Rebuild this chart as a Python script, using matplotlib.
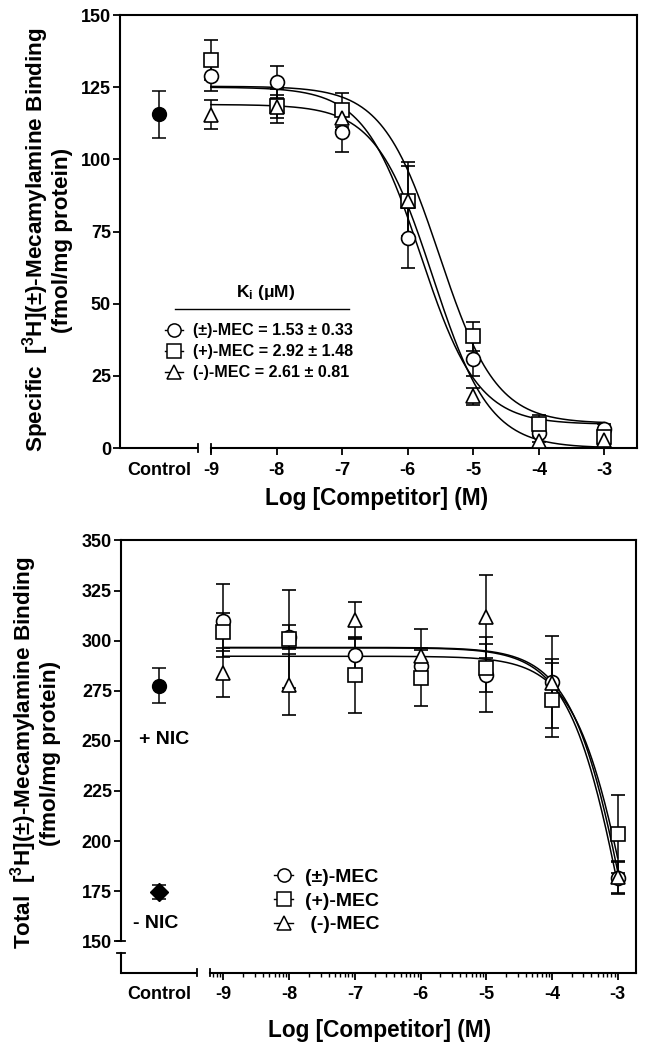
import numpy as np
import matplotlib
matplotlib.use("Agg")
import matplotlib.pyplot as plt
from matplotlib.lines import Line2D

plt.rcParams['font.family'] = ['Liberation Sans', 'DejaVu Sans']
plt.rcParams['font.weight'] = 'bold'
plt.rcParams['mathtext.fontset'] = 'custom'
plt.rcParams['mathtext.rm'] = 'Liberation Sans:bold'
plt.rcParams['mathtext.bf'] = 'Liberation Sans:bold'
plt.rcParams['mathtext.it'] = 'Liberation Sans:bold'

# ---------------- data ----------------
log_conc = [-9, -8, -7, -6, -5, -4, -3]
series_names = ['(±)-MEC', '(+)-MEC', '(-)-MEC']

# Top: specific binding
spec_pm = [128.7, 126.9, 109.6, 72.7, 30.8, 5.2, 6.7]
spec_pm_err = [5.0, 5.5, 7.0, 10.4, 6.0, 3.0, 1.5]
spec_plus = [134.4, 118.5, 117.1, 85.6, 38.7, 8.4, 3.7]
spec_plus_err = [7.0, 6.0, 5.8, 13.6, 5.0, 3.0, 2.0]
spec_minus = [115.4, 118.3, 114.2, 85.6, 17.9, 2.3, 2.9]
spec_minus_err = [5.0, 4.0, 4.0, 12.0, 3.0, 2.0, 2.0]
spec_control = 115.6
spec_control_err = 8.2
# fitted one-site curves: top, bottom, logIC50
spec_fit_top = [125.0, 125.3, 119.0]
spec_fit_bottom = [8.2, 8.5, 0.0]
spec_fit_logic50 = [-5.80, -5.52, -5.62]
ki_labels = ['(±)-MEC = 1.53 ± 0.33', '(+)-MEC = 2.92 ± 1.48', '(-)-MEC = 2.61 ± 0.81']

# Bottom: total binding
tot_pm = [310.0, 301.7, 292.9, 287.3, 283.0, 279.2, 181.7]
tot_pm_err = [18.0, 6.0, 8.5, 9.0, 18.6, 23.0, 8.0]
tot_plus = [304.2, 300.8, 283.0, 281.4, 286.4, 270.3, 203.4]
tot_plus_err = [9.5, 24.6, 19.0, 14.0, 12.0, 18.6, 19.5]
tot_minus = [283.9, 278.0, 310.2, 292.4, 311.9, 279.0, 182.0]
tot_minus_err = [12.2, 15.3, 9.3, 13.2, 20.6, 11.7, 8.0]
tot_fit_top = [296.6, 292.2, 296.4]
tot_fit_bottom = [0.0, 0.0, 0.0]
tot_fit_logic50 = [-2.78, -2.72, -2.82]
nic_plus = 277.5
nic_plus_err = 8.7
nic_minus = 174.4
nic_minus_err = 3.5
legend_bottom_labels = ['(±)-MEC', '(+)-MEC', ' (-)-MEC']

markers = ['o', 's', '^']

# ---------------- figure ----------------
W, H = 646, 1050
fig = plt.figure(figsize=(W / 100, H / 100), dpi=100)
SPLW = 1.5
TICKFS = 13
ax1 = fig.add_axes([120 / W, 1 - 448 / H, 516.5 / W, 433 / H])
ax2 = fig.add_axes([121 / W, 1 - 972.5 / H, 515 / W, 432.1 / H])

def curve(xs, top, bot, c):
    return bot + (top - bot) / (1 + 10 ** (xs - c))

xs = np.linspace(-9, -3, 400)
MS = {'o': 10, 's': 9.5, '^': 10}

# ---------- top panel ----------
x1min, x1max = -10.387, -2.512
ctrl1 = -9.79
brk1 = -9.198
ax1.set_xlim(x1min, x1max)
ax1.set_ylim(0, 150)
sets1 = [(spec_pm, spec_pm_err), (spec_plus, spec_plus_err), (spec_minus, spec_minus_err)]
for (vals, errs), m in zip(sets1, markers):
    ax1.errorbar(log_conc, vals, yerr=errs, fmt=m, ms=MS[m],
                 mfc='white', mec='black', mew=1.2, ecolor='black', elinewidth=1.1,
                 capsize=5.2, capthick=1.1, zorder=3)
for t, b, c in zip(spec_fit_top, spec_fit_bottom, spec_fit_logic50):
    ax1.plot(xs, curve(xs, t, b, c), color='black', lw=1.1, zorder=2)
ax1.errorbar([ctrl1], [spec_control], yerr=[spec_control_err], fmt='o', ms=10,
             mfc='black', mec='black', ecolor='black', elinewidth=1.1, capsize=5.2,
             capthick=1.1)

ax1.set_yticks([0, 25, 50, 75, 100, 125, 150])
ax1.set_xticks([ctrl1] + log_conc)
ax1.set_xticklabels(['Control'] + [str(v) for v in log_conc])
ax1.xaxis.get_major_ticks()[0].tick1line.set_visible(False)

# ---------- bottom panel ----------
x2min, x2max = -10.56, -2.72
ctrl2 = -9.977
brk2a, brk2b = -9.405, -9.207
y2min, y2max = 134.4, 350
ybrk = 144.3
ax2.set_xlim(x2min, x2max)
ax2.set_ylim(y2min, y2max)
sets2 = [(tot_pm, tot_pm_err), (tot_plus, tot_plus_err), (tot_minus, tot_minus_err)]
for (vals, errs), m in zip(sets2, markers):
    ax2.errorbar(log_conc, vals, yerr=errs, fmt=m, ms=MS[m],
                 mfc='white', mec='black', mew=1.2, ecolor='black', elinewidth=1.1,
                 capsize=5.0, capthick=1.1, zorder=3)
for t, b, c in zip(tot_fit_top, tot_fit_bottom, tot_fit_logic50):
    ax2.plot(xs, curve(xs, t, b, c), color='black', lw=1.1, zorder=2)
ax2.errorbar([ctrl2], [nic_plus], yerr=[nic_plus_err], fmt='o', ms=10,
             mfc='black', mec='black', ecolor='black', elinewidth=1.1, capsize=5,
             capthick=1.1)
ax2.errorbar([ctrl2], [nic_minus], yerr=[nic_minus_err], fmt='D', ms=9,
             mfc='black', mec='black', ecolor='black', elinewidth=1.1, capsize=5,
             capthick=1.1)
ax2.text(-9.907, 250.9, '+ NIC', fontsize=14, ha='center', va='center')
ax2.text(-10.03, 158.7, '- NIC', fontsize=14, ha='center', va='center')

ax2.set_yticks([150, 175, 200, 225, 250, 275, 300, 325, 350])
ax2.set_xticks([ctrl2] + log_conc)
ax2.set_xticklabels(['Control'] + [str(v) for v in log_conc])
ax2.xaxis.get_major_ticks()[0].tick1line.set_visible(False)
minors = [d + np.log10(k) for d in range(-10, -3) for k in range(2, 10)]
minors = [v for v in minors if brk2b <= v <= x2max]
ax2.set_xticks(minors, minor=True)

# ---------- styling ----------
for ax in (ax1, ax2):
    for s in ax.spines.values():
        s.set_linewidth(SPLW)
    ax.tick_params(axis='both', which='major', direction='out', length=5,
                   width=1.3, labelsize=TICKFS, pad=1.5)
    ax.tick_params(axis='x', which='major', pad=5)
    ax.tick_params(axis='x', which='minor', direction='out', length=3, width=1.0)
    for lab in ax.get_xticklabels() + ax.get_yticklabels():
        lab.set_fontweight('bold')

# axis breaks top
ax1.spines['bottom'].set_bounds(-9, x1max)
ax1.plot([x1min, brk1], [0, 0], color='black', lw=SPLW, clip_on=False,
         solid_capstyle='butt')
xt1 = ax1.get_xaxis_transform()
for xb in (brk1, -9):
    ax1.plot([xb, xb], [-0.009, 0.009], transform=xt1, color='black', lw=1.3,
             clip_on=False)

# axis breaks bottom
ax2.spines['bottom'].set_bounds(brk2b, x2max)
ax2.plot([x2min, brk2a], [y2min, y2min], color='black', lw=SPLW, clip_on=False,
         solid_capstyle='butt')
xt2 = ax2.get_xaxis_transform()
for xb in (brk2a, brk2b):
    ax2.plot([xb, xb], [-0.009, 0.009], transform=xt2, color='black', lw=1.3,
             clip_on=False)
ax2.spines['left'].set_bounds(150, y2max)
yt2 = ax2.get_yaxis_transform()
ax2.plot([0, 0], [y2min, ybrk], transform=yt2, color='black', lw=SPLW,
         clip_on=False)
for yb in (150, ybrk):
    ax2.plot([-0.008, 0.008], [yb, yb], transform=yt2, color='black', lw=1.3,
             clip_on=False)

# ---------- legends ----------
def handles(ms):
    return [Line2D([], [], color='black', lw=1.0, marker=m, ms=ms, mfc='white',
                   mec='black', mew=1.1) for m in markers]

ax1.text(0.281, 0.358, r'K$_\mathregular{i}$ (μM)', transform=ax1.transAxes,
         ha='center', va='center', fontsize=12.5)
ax1.plot([0.106, 0.443], [0.321, 0.321], transform=ax1.transAxes, color='black',
         lw=1.0)
ax1.legend(handles(9.5), ki_labels, loc='center left', bbox_to_anchor=(0.087, 0.222),
           frameon=False, fontsize=11.6, borderpad=0, borderaxespad=0,
           handlelength=1.12, handletextpad=0.62, labelspacing=0.38)

ax2.legend(handles(9.5), legend_bottom_labels, loc='center left',
           bbox_to_anchor=(0.297, 0.166), frameon=False, fontsize=14,
           borderpad=0, borderaxespad=0, handlelength=1.0, handletextpad=0.6,
           labelspacing=0.32)

# ---------- axis labels ----------
fig.text(377 / W, 1 - 498 / H, 'Log [Competitor] (M)', fontsize=16.3,
         ha='center', va='center')
fig.text(380 / W, 1 - 1030 / H, 'Log [Competitor] (M)', fontsize=16.3,
         ha='center', va='center')
fig.text(46.5 / W, 1 - 240 / H,
         'Specific  [$^\\mathregular{3}$H](±)-Mecamylamine Binding\n(fmol/mg protein)',
         fontsize=16.2, rotation=90, ha='center', va='center',
         multialignment='center', linespacing=1.05)
fig.text(34.5 / W, 1 - 753 / H,
         'Total  [$^\\mathregular{3}$H](±)-Mecamylamine Binding\n(fmol/mg protein)',
         fontsize=16.2, rotation=90, ha='center', va='center',
         multialignment='center', linespacing=1.05)

fig.savefig('out.png', dpi=100)
